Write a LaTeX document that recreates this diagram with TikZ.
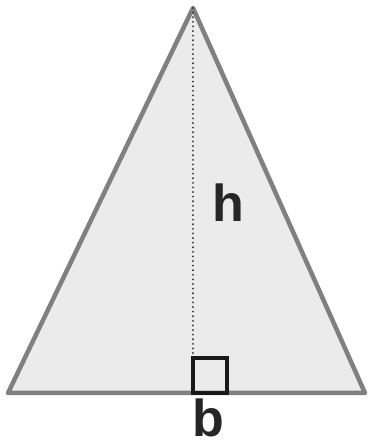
\documentclass[tikz,border=0pt]{standalone}
\usepackage{fontspec}
\setmainfont{Liberation Sans}
\usepackage{tikz}

\begin{document}
\begin{tikzpicture}[x=1pt,y=1pt,side/.style={draw=black!50,line width=4.5pt,fill=black!8,line join=round},hgt/.style={black!80,line width=2pt,line cap=round,dash pattern=on 0.1pt off 4.5pt},rang/.style={draw=black!90,line width=3.6pt},lbl/.style={font=\fontsize{52}{52}\selectfont\bfseries,text=black!85,inner sep=0pt,anchor=base}]
\useasboundingbox (0,0) rectangle (368,445);
\coordinate (apex) at (193,437);
\coordinate (bl) at (8,52);
\coordinate (br) at (365,52);
\coordinate (foot) at (193,52);
\coordinate (ftop) at (193,87);
\draw[side] (bl) -- (apex) -- (br) -- cycle;
\draw[hgt] (apex) -- (ftop);
\draw[rang] (foot) rectangle +(34,35);
\node[lbl] (h) at (228,223) {h};
\node[lbl] (b) at (208,9) {b};
\end{tikzpicture}
\end{document}
